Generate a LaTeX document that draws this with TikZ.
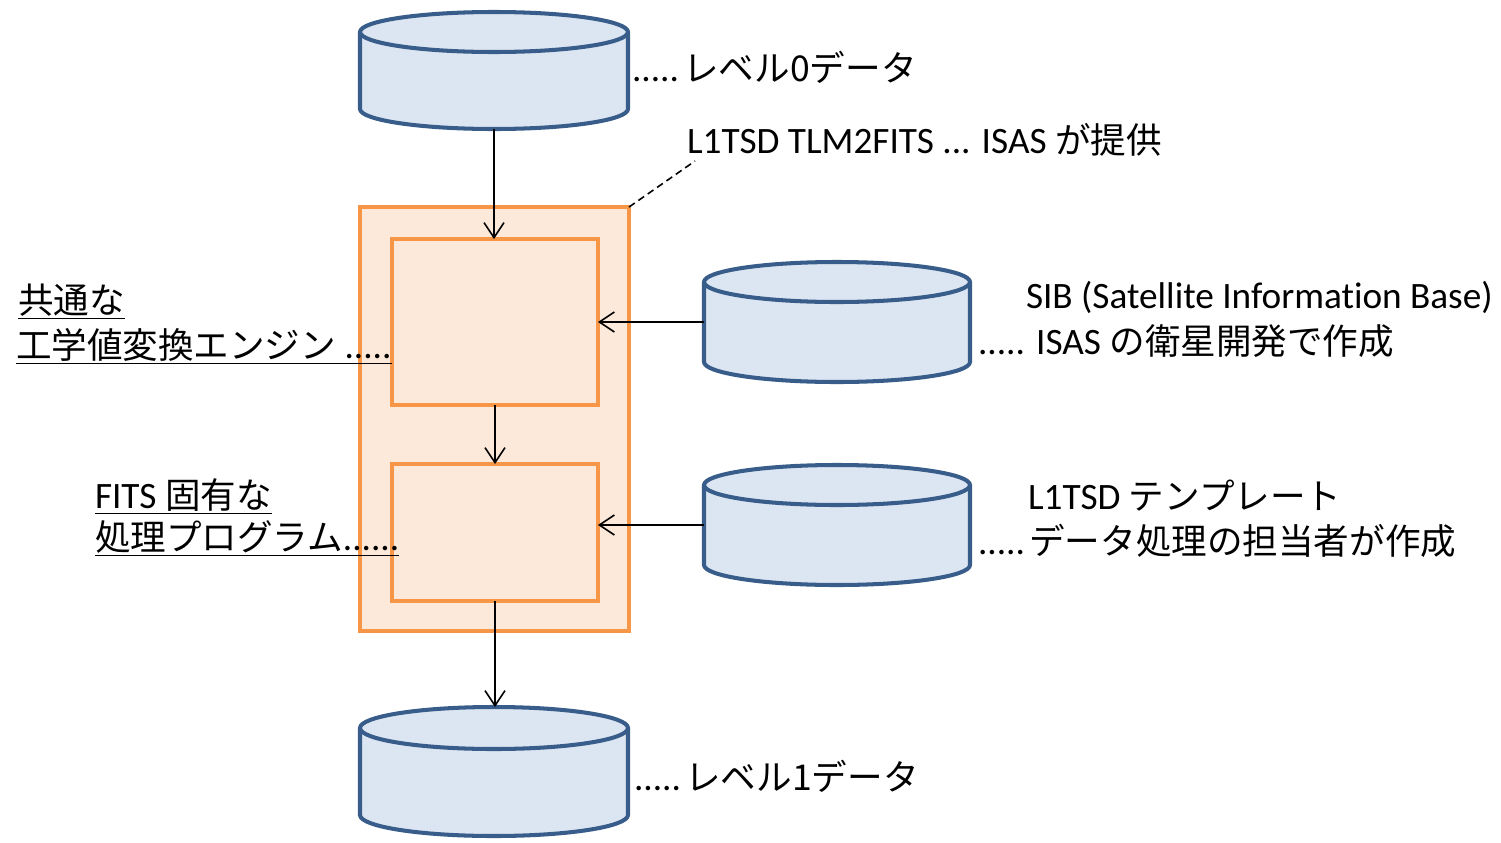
\documentclass[tikz,border=0pt]{standalone}
\usepackage{fontspec}
\setmainfont{Carlito}[Ligatures=NoCommon]
\newfontfamily\jp{Noto Sans CJK JP}[Scale=0.955]
\usetikzlibrary{arrows.meta}
\definecolor{cylblue}{HTML}{385D8A}
\definecolor{cylfill}{HTML}{DCE6F2}
\definecolor{orstroke}{HTML}{F79646}
\definecolor{orfill}{HTML}{FDE9D9}
\newcommand\cylpath[5]{%
  \pgfmathsetmacro\crx{(#2-#1)/2}%
  \filldraw[cylst] (#1,#3) -- (#1,#4) arc[start angle=180,end angle=360,x radius=\crx,y radius=#5]
    -- (#2,#3) arc[start angle=0,end angle=180,x radius=\crx,y radius=#5] -- cycle;
  \draw[cylst,fill=none] (#1,#3) arc[start angle=180,end angle=360,x radius=\crx,y radius=#5];}
\newcommand\gap{\hspace{2.5pt}}
\begin{document}
\begin{tikzpicture}[x=0.02cm,y=0.02cm,
  cylst/.style={draw=cylblue,fill=cylfill,line width=2.3pt},
  cylnode/.style={inner sep=0,outer sep=0,draw=none},
  obox/.style={draw=orstroke,fill=orfill,line width=2pt,inner sep=0,outer sep=0},
  arr/.style={-{Straight Barb[length=3mm,width=4mm]},line width=0.9pt},
  lbl/.style={anchor=base west,inner sep=0,outer sep=0,font=\fontsize{21.2}{25}\selectfont}]
\useasboundingbox (0,0) rectangle (1501,-842);

% cylinders
\cylpath{360}{628}{-32}{-109}{20}
\node[cylnode,minimum width=5.36cm,minimum height=2.34cm] (A) at (494,-70.5) {};
\cylpath{704}{970}{-282}{-362}{20}
\node[cylnode,minimum width=5.32cm,minimum height=2.4cm] (B) at (837,-322) {};
\cylpath{704}{970}{-485}{-565}{20}
\node[cylnode,minimum width=5.32cm,minimum height=2.4cm] (C) at (837,-525) {};
\cylpath{360}{628}{-728}{-815}{21}
\node[cylnode,minimum width=5.36cm,minimum height=2.58cm] (D) at (494,-771.5) {};

% orange boxes
\node[obox,minimum width=5.38cm,minimum height=8.48cm] (ob) at (494.5,-419) {};
\node[obox,minimum width=4.12cm,minimum height=3.32cm] (b1) at (495,-322) {};
\node[obox,minimum width=4.12cm,minimum height=2.74cm] (b2) at (495,-532.5) {};

% connectors
\draw[arr] (A.south) -- (A.south |- b1.north);
\draw[arr] (b1.south) -- (b2.north);
\draw[arr] (b2.south) -- (b2.south |- D.north);
\draw[arr] (B.west) -- (b1.east |- B.west);
\draw[arr] (C.west) -- (b2.east |- C.west);
\coordinate (dl) at (695,-161);
\draw[dash pattern=on 4pt off 2.5pt,line width=0.9pt] (ob.north east) -- (dl);

% labels
\node[lbl] (t0) at (632,-81) {.....\gap{\jp レベル0データ}};
\node[lbl] (tA) at (687,-153) {L1TSD TLM2FITS ... ISAS {\jp が提供}};
\node[lbl] (tE1) at (18,-313) {\underline{\jp 共通な}};
\node[lbl] (tE2) at (16,-358) {\underline{{\jp 工学値変換エンジン} .....}};
\node[lbl] (tF1) at (95,-508) {\underline{FITS {\jp 固有な}}};
\node[lbl] (tF2) at (95,-550) {\underline{{\jp 処理プログラム}......}};
\node[lbl] (tS1) at (1026,-308) {SIB (Satellite Information Base)};
\node[lbl] (tS2) at (978,-354) {..... ISAS {\jp の衛星開発で作成}};
\node[lbl] (tT1) at (1028,-509) {L1TSD {\jp テンプレート}};
\node[lbl] (tT2) at (978,-554) {.....\gap{\jp データ処理の担当者が作成}};
\node[lbl] (t1) at (634,-790) {.....\gap{\jp レベル1データ}};
\end{tikzpicture}
\end{document}
